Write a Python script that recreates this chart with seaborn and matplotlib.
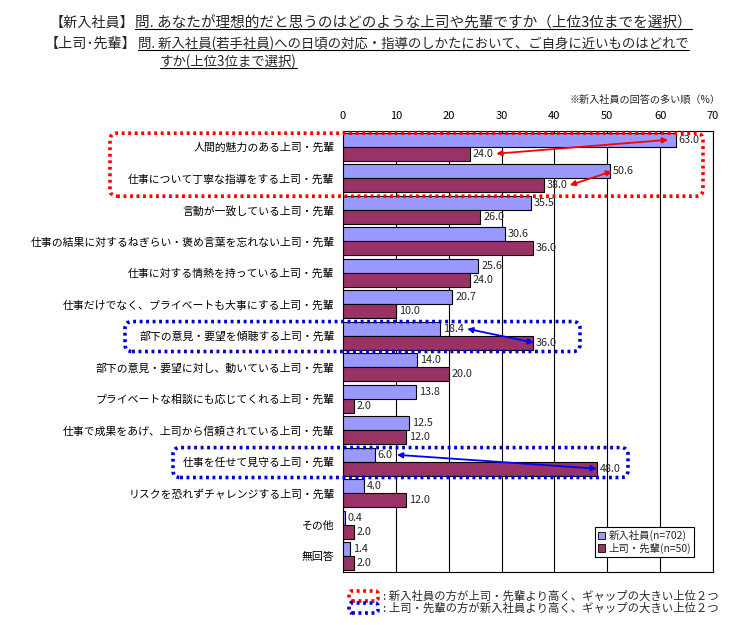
import numpy as np
import pandas as pd
import matplotlib
matplotlib.use('Agg')
import matplotlib.pyplot as plt
import seaborn as sns
from matplotlib.patches import FancyBboxPatch, Patch
from matplotlib.transforms import IdentityTransform
from matplotlib.lines import Line2D

categories = [
    '人間的魅力のある上司・先輩',
    '仕事について丁寧な指導をする上司・先輩',
    '言動が一致している上司・先輩',
    '仕事の結果に対するねぎらい・褒め言葉を忘れない上司・先輩',
    '仕事に対する情熱を持っている上司・先輩',
    '仕事だけでなく、プライベートも大事にする上司・先輩',
    '部下の意見・要望を傾聴する上司・先輩',
    '部下の意見・要望に対し、動いている上司・先輩',
    'プライベートな相談にも応じてくれる上司・先輩',
    '仕事で成果をあげ、上司から信頼されている上司・先輩',
    '仕事を任せて見守る上司・先輩',
    'リスクを恐れずチャレンジする上司・先輩',
    'その他',
    '無回答',
]
new_hires = [63.0, 50.6, 35.5, 30.6, 25.6, 20.7, 18.4, 14.0, 13.8, 12.5, 6.0, 4.0, 0.4, 1.4]
seniors = [24.0, 38.0, 26.0, 36.0, 24.0, 10.0, 36.0, 20.0, 2.0, 12.0, 48.0, 12.0, 2.0, 2.0]
series_names = ['新入社員(n=702)', '上司・先輩(n=50)']
xticks = [0, 10, 20, 30, 40, 50, 60, 70]

# gap arrows: (category index, new-hire end x, senior end x)
red_arrows = [(0, 61.5, 29.0), (1, 50.9, 42.9)]
blue_arrows = [(6, 23.5, 36.1), (10, 10.2, 48.0)]

sns.set_theme(style='white')
plt.rcParams['font.family'] = ['Noto Sans CJK JP', 'DejaVu Sans']

df = pd.DataFrame({
    'category': categories * 2,
    'value': new_hires + seniors,
    'group': [series_names[0]] * len(categories) + [series_names[1]] * len(categories),
})

W, H = 736, 625
fig = plt.figure(figsize=(W / 100, H / 100), dpi=100)
ax = fig.add_axes([343 / W, 1 - 572 / H, 370 / W, 441 / H])

colors = ['#9999FF', '#993366']
sns.barplot(data=df, y='category', x='value', hue='group', palette=colors,
            edgecolor='black', linewidth=0.8, width=0.88, saturation=1,
            orient='h', dodge=True, legend=False, ax=ax, zorder=3)

for cont in ax.containers:
    ax.bar_label(cont, fmt='%.1f', padding=2, fontsize=7.8, zorder=6)

ax.set_xlim(0, 70)
ax.set_ylim(len(categories) - 0.5, -0.5)
ax.xaxis.tick_top()
ax.set_xticks(xticks)
ax.tick_params(axis='x', length=0, pad=7, labelsize=8, colors='black')
ax.tick_params(axis='y', which='major', length=0, pad=6, labelsize=7.8, colors='black')
ax.set_yticks(np.arange(-0.5, len(categories), 1), minor=True)
ax.tick_params(axis='y', which='minor', length=4, width=0.8, direction='inout', color='black')
ax.set_xlabel('')
ax.set_ylabel('')
ax.grid(axis='x', color='black', linewidth=0.8)
ax.set_axisbelow(True)
for s in ax.spines.values():
    s.set_color('black')
    s.set_linewidth(0.8)

# legend
handles = [Patch(facecolor=c, edgecolor='black', linewidth=0.6) for c in colors]
leg = ax.legend(handles, series_names, loc='lower right', bbox_to_anchor=(0.949, 0.034),
                borderaxespad=0, frameon=True, fancybox=False, fontsize=7.5,
                handlelength=0.7, handleheight=0.7, handletextpad=0.3,
                borderpad=0.3, labelspacing=0.15)
leg.get_frame().set_edgecolor('black')
leg.get_frame().set_linewidth(0.8)
leg.get_frame().set_alpha(1)

# arrows
for (i, xb, xm) in red_arrows:
    ax.annotate('', xy=(xb, i - 0.22), xytext=(xm, i + 0.22),
                arrowprops=dict(arrowstyle='<|-|>', color='#FF0000', lw=1.3,
                                mutation_scale=8, shrinkA=0, shrinkB=0), zorder=7)
for (i, xb, xm) in blue_arrows:
    ax.annotate('', xy=(xb, i - 0.22), xytext=(xm, i + 0.22),
                arrowprops=dict(arrowstyle='<|-|>', color='#0000FF', lw=1.3,
                                mutation_scale=8, shrinkA=0, shrinkB=0), zorder=7)

fig.canvas.draw()


def ypix(yd):
    return ax.transData.transform((0, yd))[1]


def dotted_box(x0, x1, y0, y1, color, rs=7):
    p = FancyBboxPatch((x0, y0), x1 - x0, y1 - y0,
                       boxstyle=f'round,pad=0,rounding_size={rs}',
                       transform=IdentityTransform(), fill=False, edgecolor=color,
                       linewidth=2.6, linestyle=(0, (0.8, 1.0)), clip_on=False, zorder=8)
    fig.add_artist(p)


dotted_box(110, 703, ypix(1.57), ypix(-0.43), '#FF0000')
dotted_box(125, 580, ypix(6.5), ypix(5.55), '#0000DD')
dotted_box(173, 628, ypix(10.5), ypix(9.55), '#0000DD')

# bottom legend boxes
dotted_box(349, 378, H - 601, H - 591, '#FF0000', rs=3)
dotted_box(349, 378, H - 613, H - 603, '#0000DD', rs=3)
fig.text(383 / W, 1 - 596 / H, ': 新入社員の方が上司・先輩より高く、ギャップの大きい上位２つ',
         fontsize=8.2, va='center', ha='left')
fig.text(383 / W, 1 - 608 / H, ': 上司・先輩の方が新入社員より高く、ギャップの大きい上位２つ',
         fontsize=8.2, va='center', ha='left')

# note
fig.text(721 / W, 1 - 100 / H, '※新入社員の回答の多い順（%）', fontsize=7.3, ha='right', va='center')

# titles (fit widths to reference)
r = fig.canvas.get_renderer()


def fitted_text(x0, x1, y, s, base=9.5, maxfs=None):
    t = fig.text(x0 / W, 1 - y / H, s, fontsize=base, va='center', ha='left')
    bb = t.get_window_extent(r)
    fs = base * (x1 - x0) / bb.width
    if maxfs is not None:
        fs = min(fs, maxfs)
    t.set_fontsize(fs)
    return t, fs


q2, fs2 = fitted_text(138, 693, 44, '問. 新入社員(若手社員)への日頃の対応・指導のしかたにおいて、ご自身に近いものはどれで')
q1, _ = fitted_text(135, 695, 23, '問. あなたが理想的だと思うのはどのような上司や先輩ですか（上位3位までを選択）',
                    maxfs=fs2 * 1.1)
q3 = fig.text(160 / W, 1 - 62 / H, 'すか(上位3位まで選択)', fontsize=fs2, va='center', ha='left')
fig.text(134 / W, 1 - 23 / H, '【新入社員】', fontsize=fs2 * 1.05, va='center', ha='right')
fig.text(136 / W, 1 - 44 / H, '【上司･先輩】', fontsize=fs2 * 1.05, va='center', ha='right')

fig.canvas.draw()
r = fig.canvas.get_renderer()
for t in (q1, q2, q3):
    bb = t.get_window_extent(r)
    fig.add_artist(Line2D([bb.x0, bb.x1], [bb.y0 + 1, bb.y0 + 1], transform=IdentityTransform(),
                          color='black', lw=0.8))

fig.savefig('out.png', dpi=100, facecolor='white')
